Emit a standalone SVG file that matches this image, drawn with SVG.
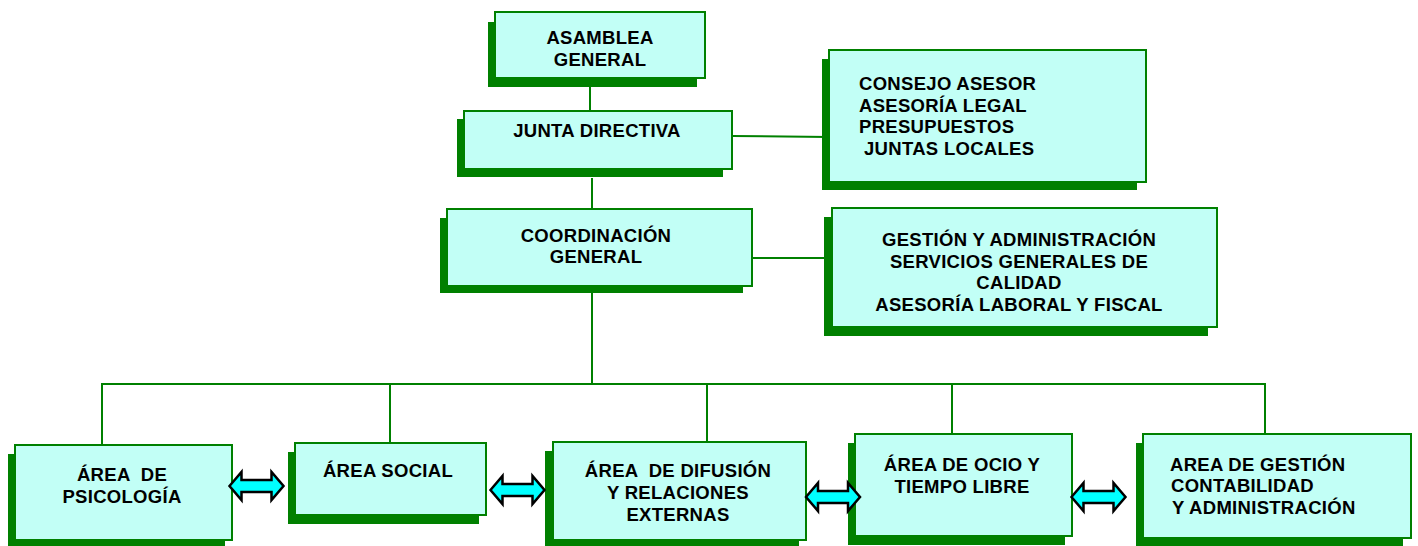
<svg xmlns="http://www.w3.org/2000/svg" xmlns:xlink="http://www.w3.org/1999/xlink" width="1418" height="546" viewBox="0 0 1418 546">
<style>
.box{fill:#C2FFF6;stroke:#008000;stroke-width:2}
.sh{fill:#008000}
.t{font-family:"Liberation Sans",Arial,sans-serif;font-weight:bold;font-size:18.5px;letter-spacing:0.3px;fill:#000}
.c{text-anchor:middle}
.ln{stroke:#008000;stroke-width:2;fill:none}
.arr{fill:#00FFFF;stroke:#000;stroke-width:2.5;stroke-linejoin:miter}
</style>
<defs>
<path id="dbl" d="M-27,0 L-15,-14 L-15,-6 L15,-6 L15,-14 L27,0 L15,14 L15,6 L-15,6 L-15,14 Z"/>
</defs>
<rect width="1418" height="546" fill="#fff"/>
<g id="connectors">
<path class="ln" d="M590,68 V111"/>
<path class="ln" d="M592,178 V209"/>
<path class="ln" d="M592,293 V384"/>
<path class="ln" d="M732,136 L829,137"/>
<path class="ln" d="M752,258 H832"/>
<path class="ln" d="M102,445 V384 H1265 V434"/>
<path class="ln" d="M390,384 V443"/>
<path class="ln" d="M707,384 V442"/>
<path class="ln" d="M952,384 V434"/>
</g>
<g id="asamblea">
<rect class="sh" x="488" y="22" width="209" height="65"/>
<rect class="box" x="495" y="12" width="210" height="66"/>
<text class="t c" x="600" y="44">ASAMBLEA</text>
<text class="t c" x="600" y="66">GENERAL</text>
</g>
<g id="junta">
<rect class="sh" x="457" y="119" width="266" height="58"/>
<rect class="box" x="464" y="111" width="268" height="58"/>
<text class="t c" x="597" y="137">JUNTA DIRECTIVA</text>
</g>
<g id="coordinacion">
<rect class="sh" x="440" y="218" width="303" height="75"/>
<rect class="box" x="447" y="209" width="305" height="77"/>
<text class="t c" x="596" y="242">COORDINACIÓN</text>
<text class="t c" x="596" y="263">GENERAL</text>
</g>
<g id="consejo">
<rect class="sh" x="822" y="59" width="315" height="131"/>
<rect class="box" x="829" y="50" width="317" height="132"/>
<text class="t" x="859" y="90">CONSEJO ASESOR</text>
<text class="t" x="859" y="111.5">ASESORÍA LEGAL</text>
<text class="t" x="859" y="133">PRESUPUESTOS</text>
<text class="t" x="864" y="155">JUNTAS LOCALES</text>
</g>
<g id="gestion">
<rect class="sh" x="824" y="217" width="384" height="119"/>
<rect class="box" x="832" y="208" width="385" height="119"/>
<text class="t c" x="1019" y="246">GESTIÓN Y ADMINISTRACIÓN</text>
<text class="t c" x="1019" y="267.5">SERVICIOS GENERALES DE</text>
<text class="t c" x="1019" y="289">CALIDAD</text>
<text class="t c" x="1019" y="311">ASESORÍA LABORAL Y FISCAL</text>
</g>
<g id="psicologia">
<rect class="sh" x="8" y="454" width="217" height="92"/>
<rect class="box" x="15" y="445" width="217" height="95"/>
<text class="t c" x="122" y="481" xml:space="preserve">ÁREA  DE</text>
<text class="t c" x="122" y="503">PSICOLOGÍA</text>
</g>
<g id="social">
<rect class="sh" x="288" y="452" width="191" height="72"/>
<rect class="box" x="295" y="443" width="191" height="72"/>
<text class="t c" x="388" y="477">ÁREA SOCIAL</text>
</g>
<g id="difusion">
<rect class="sh" x="545" y="451" width="254" height="95"/>
<rect class="box" x="553" y="442" width="253" height="98"/>
<text class="t c" x="678" y="477" xml:space="preserve">ÁREA  DE DIFUSIÓN</text>
<text class="t c" x="678" y="499">Y RELACIONES</text>
<text class="t c" x="678" y="521">EXTERNAS</text>
</g>
<g id="ocio">
<rect class="sh" x="848" y="443" width="217" height="102"/>
<rect class="box" x="855" y="434" width="217" height="102"/>
<text class="t c" x="962" y="471">ÁREA DE OCIO Y</text>
<text class="t c" x="962" y="493">TIEMPO LIBRE</text>
</g>
<g id="contabilidad">
<rect class="sh" x="1136" y="443" width="267" height="103"/>
<rect class="box" x="1143" y="434" width="268" height="104"/>
<text class="t" x="1170" y="471">AREA DE GESTIÓN</text>
<text class="t" x="1171" y="492">CONTABILIDAD</text>
<text class="t" x="1172" y="514">Y ADMINISTRACIÓN</text>
</g>
<g id="arrows">
<use href="#dbl" xlink:href="#dbl" class="arr" transform="translate(256.5,486)"/>
<use href="#dbl" xlink:href="#dbl" class="arr" transform="translate(517.5,490)"/>
<use href="#dbl" xlink:href="#dbl" class="arr" transform="translate(833,497)"/>
<use href="#dbl" xlink:href="#dbl" class="arr" transform="translate(1098.5,497)"/>
</g>
</svg>
